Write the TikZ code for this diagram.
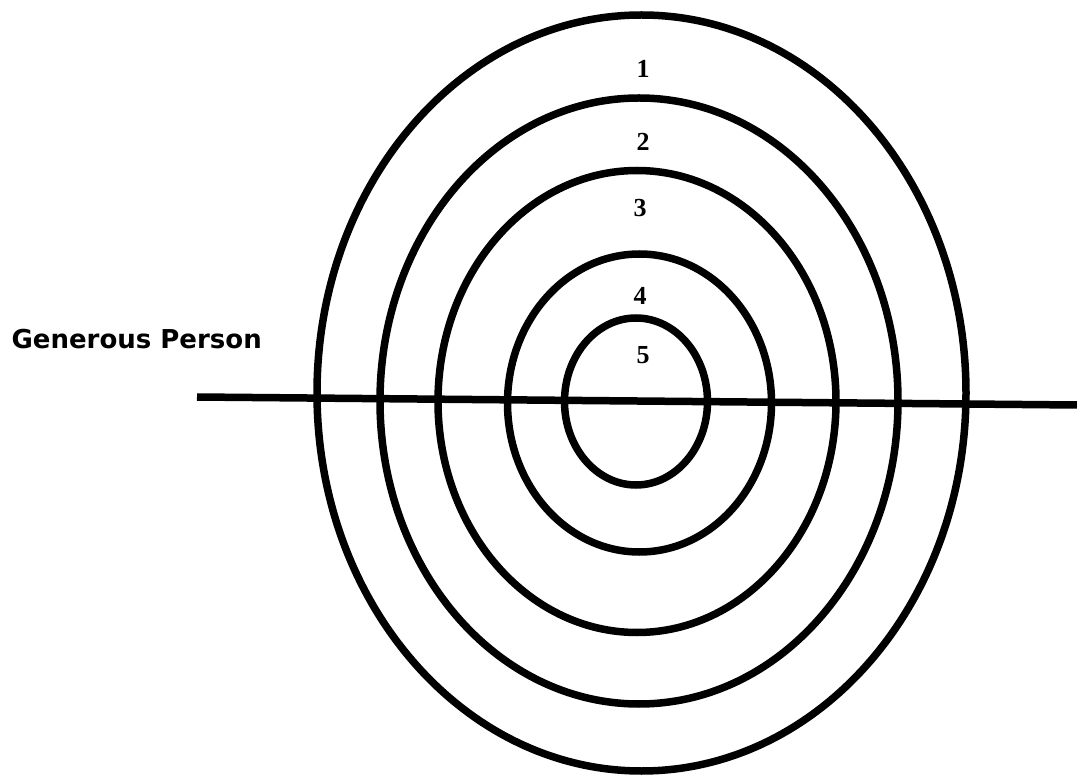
\documentclass[tikz,border=0pt]{standalone}
\usepackage{fontspec}
\setmainfont{Liberation Serif}
\newfontfamily\labelfont{DejaVu Sans}
\begin{document}
\begin{tikzpicture}[x=1pt,y=-1pt,
  ring/.style={line width=7.5pt, draw=black},
  num/.style={font=\fontsize{26}{26}\selectfont\bfseries, inner sep=0pt},
  title/.style={font=\labelfont\fontsize{26}{28}\selectfont\bfseries, inner sep=0pt}]
\useasboundingbox (0,0) rectangle (1077,775);
% rings
\draw[ring] (641.5,393) ellipse [x radius=324.5, y radius=378];
\draw[ring] (639,401) ellipse [x radius=259, y radius=303];
\draw[ring] (637,401.5) ellipse [x radius=199, y radius=231];
\draw[ring] (639.5,403) ellipse [x radius=132, y radius=149];
\draw[ring] (636,401.5) ellipse [x radius=71.5, y radius=83.5];
% horizontal line
\coordinate (lineA) at (197,397);
\coordinate (lineB) at (1077,405);
\draw[line width=7.5pt] (lineA) -- (lineB);
% labels
\node[num] (n1) at (643,69) {1};
\node[num] (n2) at (643,142) {2};
\node[num] (n3) at (640,208) {3};
\node[num] (n4) at (640,296) {4};
\node[num] (n5) at (643,355) {5};
\node[title, anchor=base east] (gp) at (262,349) {Generous Person};
\end{tikzpicture}
\end{document}
